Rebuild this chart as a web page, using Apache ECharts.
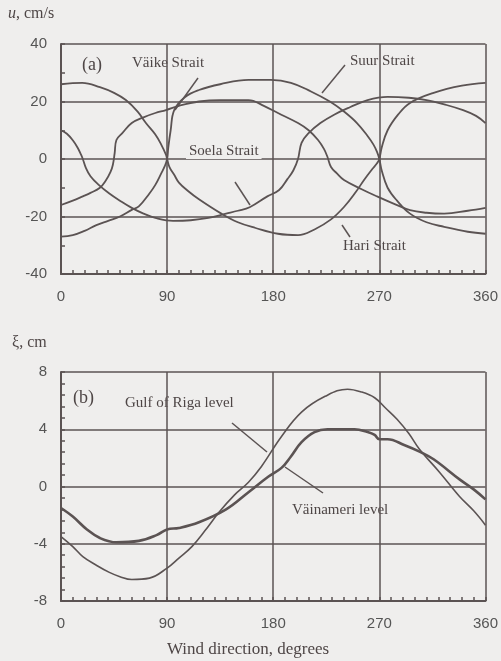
<!DOCTYPE html>
<html>
<head>
<meta charset="utf-8">
<script src="https://cdn.jsdelivr.net/npm/echarts@6/dist/echarts.min.js"></script>
<style>
html,body{margin:0;padding:0;background:#efeeed;}
#main{width:501px;height:661px;}
</style>
</head>
<body>
<div id="main"></div>
<script>
// (a) flow speed u, cm/s vs wind direction
var suur = [[0,-27],[10,-26.5],[20,-25],[30,-23],[40,-21.5],[50,-20],[60,-17.7],[66,-16.5],[75,-12],[80,-9],[85,-5],[88,-2.5],[90,0],[91,4],[93,10],[96,17],[105,21.5],[117,24],[135,26],[159,27.5],[178,27.5],[195,26.5],[212,23.5],[228,20],[240,16.5],[251,12.5],[260,8],[265,5],[268,2.5],[270,0],[272,-4],[277,-10],[285,-14.5],[296,-19],[310,-22],[325,-23.6],[345,-25.3],[360,-26]];
var hari = [[0,26],[18,26.5],[33,25],[45,23],[55,20.5],[65,16.5],[72,12.5],[80,8.5],[85,5],[89,1.5],[90,0],[92,-2.8],[96,-5.5],[100,-8.2],[108,-11.2],[117,-14],[136,-19],[150,-22],[165,-24],[184,-26],[201,-26.5],[215,-24.5],[229,-21],[240,-16.7],[250,-11.5],[257,-7.3],[264,-3.5],[268,-1.5],[270,0],[272,4],[277,10],[286,15.5],[296,19.5],[316,23],[340,25.5],[360,26.5]];
var soela = [[0,10],[5,8.8],[10,6.5],[14,4],[17,1.5],[18.5,0],[21,-3],[25,-6],[32,-9],[41,-12],[50,-14.5],[60,-17],[70,-19],[80,-20.5],[95,-21.5],[110,-21.3],[125,-20.5],[140,-19],[150,-18],[160,-16.8],[175,-13],[185,-10.8],[192,-7],[197,-4],[201,0],[204,5.6],[210,9],[220,12.5],[232,15.5],[245,18],[260,20.5],[277,21.6],[295,21.3],[310,20.5],[325,19],[341,17],[352,15],[360,12.5]];
var vaike = [[0,-16],[10,-14.5],[18.5,-13],[25,-11.8],[33,-10],[38,-7.5],[42,-4.5],[44,-2],[45.5,2],[47,6.6],[52,9],[60,12.5],[70,14.5],[80,16],[89,17],[100,18.5],[117,20],[135,20.5],[159,20.5],[172,18.5],[184,16],[201,12.5],[210,10],[218,6.6],[223,3.5],[226,0.7],[229,-2.8],[234,-5],[240,-7.3],[255,-10.5],[268,-13],[282,-15.5],[296,-17.8],[310,-18.7],[325,-19],[345,-18],[360,-17]];

// (b) sea level, cm
var gulfRiga = [[0,-3.5],[10,-4.2],[18.5,-4.9],[30,-5.5],[41,-6],[50,-6.3],[60,-6.5],[75,-6.4],[90,-5.7],[100,-5],[111,-4.2],[122,-3.1],[134,-1.8],[147,-0.6],[159,0.3],[170,1.4],[187,3.5],[204,5.2],[224,6.3],[243,6.8],[255,6.6],[266,6.2],[275,5.5],[285,4.7],[295,3.7],[304,2.6],[321,1],[338,-0.7],[350,-1.7],[360,-2.7]];
var vainameri = [[0,-1.5],[10,-2.1],[22,-3],[33,-3.6],[47,-3.9],[66,-3.8],[81,-3.4],[90,-3],[100,-2.9],[117,-2.5],[140,-1.6],[159,-0.4],[176,0.7],[187,1.3],[195,2.1],[204,3.1],[215,3.8],[226,4],[249,4],[260,3.8],[266,3.6],[270,3.3],[277,3.3],[291,2.9],[305,2.4],[316,1.9],[338,0.5],[350,-0.2],[360,-0.9]];

var ink = '#5b5353';
var serif = 'Liberation Serif';

function xAx(idx) {
    return {
        type: 'value', gridIndex: idx, min: 0, max: 360, interval: 90,
        axisLine: {onZero: false, lineStyle: {color: ink, width: 2}},
        axisTick: {inside: true, length: 4, lineStyle: {color: ink, width: 1.5}},
        minorTick: {show: true, splitNumber: 9, length: 4, lineStyle: {color: ink, width: 1.5}},
        splitLine: {lineStyle: {color: ink, width: 1.5}},
        axisLabel: {color: '#555', fontFamily: 'Liberation Sans', fontSize: 15, margin: 15}
    };
}
function yAx(idx, min, max, step, minor) {
    return {
        type: 'value', gridIndex: idx, min: min, max: max, interval: step,
        axisLine: {show: true, onZero: false, lineStyle: {color: ink, width: 2}},
        axisTick: {show: true, inside: true, length: 4, lineStyle: {color: ink, width: 1.5}},
        minorTick: {show: true, splitNumber: minor, length: 4, lineStyle: {color: ink, width: 1.5}},
        splitLine: {lineStyle: {color: ink, width: 1.5}},
        axisLabel: {color: '#555', fontFamily: 'Liberation Sans', fontSize: 15, margin: 14}
    };
}
function curve(name, data, xi, w) {
    return {
        name: name, type: 'line', xAxisIndex: xi, yAxisIndex: xi, data: data,
        showSymbol: false, smooth: 0.4,
        lineStyle: {color: ink, width: w || 1.8}
    };
}
function label(txt, x, y, size) {
    return {type: 'text', x: x, y: y, style: {text: txt, font: (size || 15) + 'px ' + serif, fill: '#4e4646'}};
}
function leader(x1, y1, x2, y2) {
    return {type: 'line', shape: {x1: x1, y1: y1, x2: x2, y2: y2}, style: {stroke: ink, lineWidth: 1.5}};
}

var myChart = echarts.init(document.getElementById('main'));
option = {
    backgroundColor: '#efeeed',
    animation: false,
    grid: [
        {left: 61, top: 44, width: 428, height: 230},
        {left: 61, top: 372, width: 428, height: 229}
    ],
    xAxis: [xAx(0), xAx(1)],
    yAxis: [yAx(0, -40, 40, 20, 2), yAx(1, -8, 8, 4, 5)],
    series: [
        curve('Suur Strait', suur, 0),
        curve('Hari Strait', hari, 0),
        curve('Soela Strait', soela, 0),
        curve('Väike Strait', vaike, 0),
        curve('Gulf of Riga level', gulfRiga, 1, 1.6),
        curve('Väinameri level', vainameri, 1, 2.6)
    ],
    graphic: [
        {type: 'text', x: 8, y: 6, style: {text: '{i|u}, cm/s', font: '16px ' + serif, fill: '#4e4646',
            rich: {i: {fontStyle: 'italic', fontFamily: serif, fontSize: 16, fill: '#4e4646'}}}},
        {type: 'text', x: 12, y: 335, style: {text: 'ξ, cm', font: '16px ' + serif, fill: '#4e4646'}},
        label('(a)', 82, 56, 18),
        label('Väike Strait', 132, 56),
        label('Suur Strait', 350, 54),
        {type: 'text', x: 186, y: 144, z: 10, style: {text: 'Soela Strait', font: '15px ' + serif, fill: '#4e4646',
            backgroundColor: '#efeeed', padding: [0, 3, 0, 3]}},
        label('Hari Strait', 343, 239),
        label('(b)', 73, 389, 18),
        label('Gulf of Riga level', 125, 396),
        label('Väinameri level', 292, 503),
        label('Wind direction, degrees', 167, 641, 17),
        leader(198, 78, 175, 110),
        leader(345, 65, 322, 93),
        leader(235, 182, 250, 205),
        leader(350, 237, 342, 225),
        leader(232, 423, 267, 452),
        leader(285, 467, 323, 493)
    ]
};
myChart.setOption(option);
</script>
</body>
</html>
